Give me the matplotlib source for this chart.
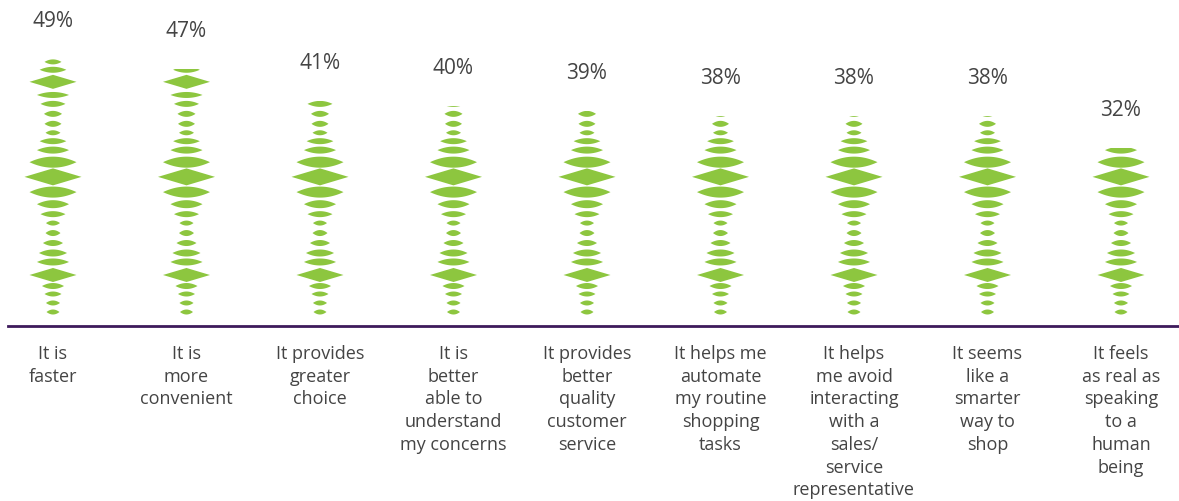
import matplotlib.pyplot as plt
import numpy as np
from matplotlib.patches import Polygon, Rectangle

# data
categories = [
    "It is\nfaster",
    "It is\nmore\nconvenient",
    "It provides\ngreater\nchoice",
    "It is\nbetter\nable to\nunderstand\nmy concerns",
    "It provides\nbetter\nquality\ncustomer\nservice",
    "It helps me\nautomate\nmy routine\nshopping\ntasks",
    "It helps\nme avoid\ninteracting\nwith a\nsales/\nservice\nrepresentative",
    "It seems\nlike a\nsmarter\nway to\nshop",
    "It feels\nas real as\nspeaking\nto a\nhuman\nbeing",
]
values = [49, 47, 41, 40, 39, 38, 38, 38, 32]

# decorative "sound wave" motif, clipped at each value
# position along the column (in % units), width (in column units), height (in % units)
wave_pos = [0.76, 2.48, 4.19, 5.71, 7.81, 10.29, 12.0, 13.9, 15.8, 17.7, 19.4, 21.3,
            23.6, 26.5, 29.3, 31.6, 33.3, 34.9, 36.6, 38.5, 40.4, 42.1, 44.6, 46.9, 48.4]
wave_w = [0.097, 0.105, 0.127, 0.165, 0.352, 0.24, 0.21, 0.15, 0.112, 0.105, 0.187, 0.24,
          0.352, 0.427, 0.352, 0.24, 0.2, 0.112, 0.127, 0.135, 0.187, 0.24, 0.352, 0.2, 0.127]
wave_h = [0.95, 0.95, 0.95, 1.14, 2.67, 1.33, 1.33, 1.14, 1.14, 0.95, 1.14, 1.52,
          2.1, 3.24, 2.1, 1.33, 1.14, 0.95, 1.14, 1.14, 1.14, 1.14, 2.67, 1.14, 0.95]
wave_kind = ["l"] * 25
for k in (4, 13, 22):
    wave_kind[k] = "d"

GREEN = "#8DC63F"
PURPLE = "#3D1A5B"
TEXT = "#444444"
FONT = ["Open Sans", "DejaVu Sans"]


def glyph(cx, cy, w, h, kind):
    t = np.linspace(-1, 1, 41)
    if kind == "d":
        prof = 1 - np.abs(t)
    else:
        prof = 1 - t ** 2
    xs = cx + t * w / 2
    top = cy + prof * h / 2
    bot = cy - prof * h / 2
    return np.column_stack([np.concatenate([xs, xs[::-1]]),
                            np.concatenate([top, bot[::-1]])])


fig = plt.figure(figsize=(11.79, 5.01), dpi=100)
ax = fig.add_axes([8 / 1179, 175 / 501, 1170 / 1179, 326 / 501])
ax.set_xlim(-0.337, 8.427)
ax.set_ylim(-1.905, 60.19)

for i, v in enumerate(values):
    clip = Rectangle((i - 0.5, -1), 1, v + 1, transform=ax.transData)
    for p, w, h, kind in zip(wave_pos, wave_w, wave_h, wave_kind):
        poly = Polygon(glyph(i, p, w, h, kind), closed=True, facecolor=GREEN,
                       edgecolor="none")
        ax.add_patch(poly)
        poly.set_clip_path(clip)
    ax.annotate(f"{v}%", (i, v), xytext=(0, 27), textcoords="offset points",
                ha="center", va="center", fontsize=15, color=TEXT,
                family=FONT, annotation_clip=False)
    ax.annotate(categories[i], (i, -1.905), xytext=(0, -13.5), textcoords="offset points",
                ha="center", va="top", fontsize=13, color=TEXT, family=FONT,
                linespacing=1.34, annotation_clip=False)

for s in ("top", "left", "right"):
    ax.spines[s].set_visible(False)
ax.spines["bottom"].set_color(PURPLE)
ax.spines["bottom"].set_linewidth(2)
ax.set_xticks([])
ax.set_yticks([])

fig.savefig("out.png", dpi=100)
